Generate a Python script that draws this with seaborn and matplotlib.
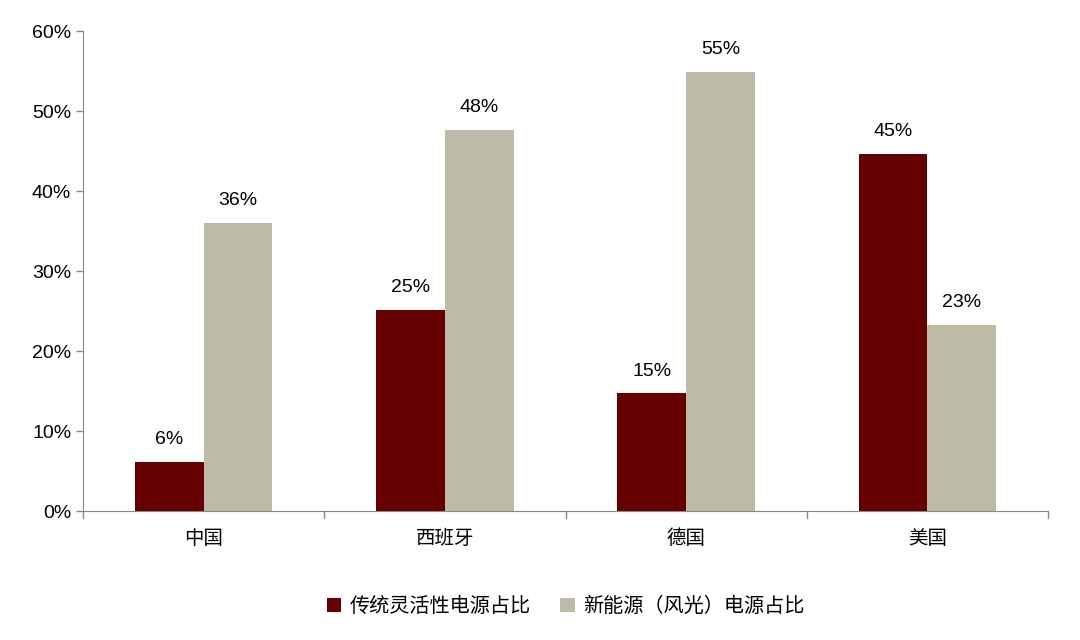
import numpy as np
import pandas as pd
import matplotlib
matplotlib.use("Agg")
import matplotlib.pyplot as plt
import seaborn as sns

countries = ["中国", "西班牙", "德国", "美国"]
series_names = ["传统灵活性电源占比", "新能源（风光）电源占比"]
traditional = [6.1, 25.1, 14.7, 44.6]
renewable = [36.0, 47.6, 54.9, 23.3]
colors = ["#660000", "#BDBAA7"]

df = pd.DataFrame({
    "country": countries * 2,
    "series": [series_names[0]] * 4 + [series_names[1]] * 4,
    "value": traditional + renewable,
})

sns.set_style("white")
plt.rcParams["font.family"] = ["Noto Sans CJK SC", "DejaVu Sans"]
plt.rcParams["text.color"] = "black"
plt.rcParams["xtick.color"] = "black"
plt.rcParams["ytick.color"] = "black"

fig = plt.figure(figsize=(10.8, 6.4), dpi=100)
ax = fig.add_axes([83 / 1080, 1 - 511 / 640, 965 / 1080, 480 / 640])
sns.barplot(data=df, x="country", y="value", hue="series", palette=colors,
            width=0.57, saturation=1, linewidth=0, ax=ax, legend=True)

for cont in ax.containers:
    labels = [f"{round(b.get_height()):.0f}%" for b in cont]
    ax.bar_label(cont, labels=labels, padding=10, fontsize=14, family="Liberation Sans", color="black")

ax.set_xlim(-0.5, 3.5)
ax.set_ylim(0, 60)
ax.set_yticks(np.arange(0, 61, 10))
ax.set_yticklabels([f"{v}%" for v in range(0, 61, 10)], fontsize=14, family="Liberation Sans")
ax.set_xticks(range(4))
ax.set_xticklabels(countries, fontsize=14)
ax.tick_params(axis="x", length=0, pad=12)
ax.tick_params(axis="y", length=5, width=1, direction="out", left=True, color="#888888")
for x in np.arange(-0.5, 3.6, 1):
    ax.plot([x, x], [0, -0.9], color="#888888", lw=1, clip_on=False)
ax.set_xlabel("")
ax.set_ylabel("")
for s in ["top", "right"]:
    ax.spines[s].set_visible(False)
ax.spines["left"].set_color("#888888")
ax.spines["bottom"].set_color("#888888")

handles, lbls = ax.get_legend_handles_labels()
ax.legend(handles, lbls, loc="upper center", bbox_to_anchor=(0.5, -0.14), ncol=2,
          frameon=False, fontsize=14.5, handlelength=0.7, handleheight=0.7,
          columnspacing=1.5, handletextpad=0.4)

fig.savefig("out.png", dpi=100)
